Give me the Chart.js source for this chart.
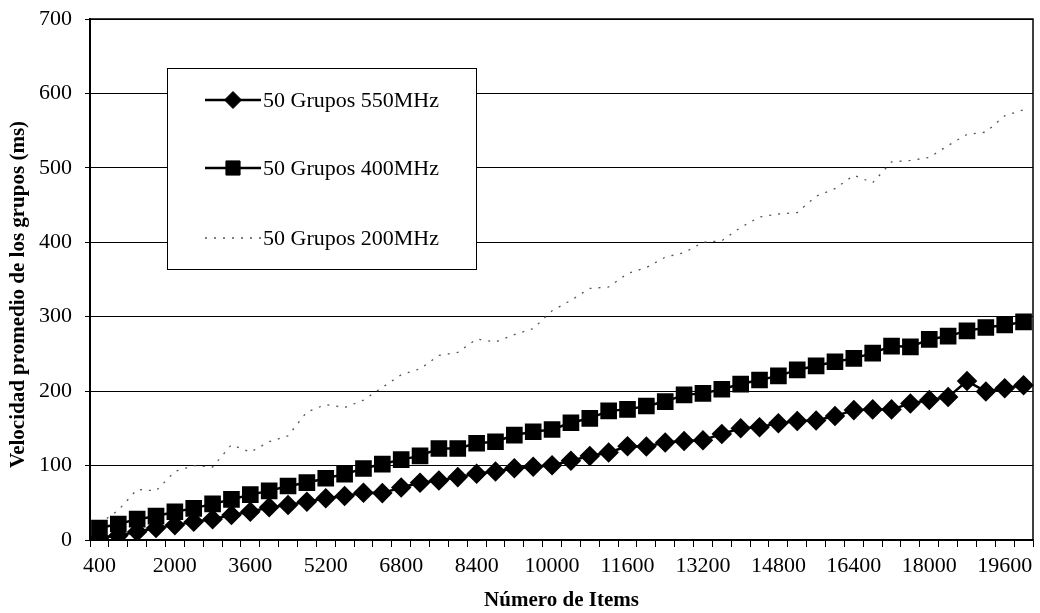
<!DOCTYPE html>
<html>
<head>
<meta charset="utf-8">
<script src="https://cdn.jsdelivr.net/npm/chart.js@4/dist/chart.umd.min.js"></script>
<style>
  html, body { margin: 0; padding: 0; background: #fff; }
  #wrap { width: 1040px; height: 613px; position: relative; }
</style>
</head>
<body>
<div id="wrap"><canvas id="chart" width="1040" height="613"></canvas></div>
<script>
// Número de items por prueba
const categories = [
  400, 800, 1200, 1600, 2000, 2400, 2800, 3200, 3600, 4000,
  4400, 4800, 5200, 5600, 6000, 6400, 6800, 7200, 7600, 8000,
  8400, 8800, 9200, 9600, 10000, 10400, 10800, 11200, 11600, 12000,
  12400, 12800, 13200, 13600, 14000, 14400, 14800, 15200, 15600, 16000,
  16400, 16800, 17200, 17600, 18000, 18400, 18800, 19200, 19600, 20000
];

// Etiquetas visibles del eje X
const xTickLabels = ['400', '2000', '3600', '5200', '6800', '8400', '10000',
  '11600', '13200', '14800', '16400', '18000', '19600'];

// Velocidad promedio (ms) por procesador
const grupos550 = [
  3, 6, 11, 16, 20, 24.5, 28, 33.5, 38, 44,
  47, 51.5, 56, 59, 63.5, 63, 70.5, 77, 80, 84.5,
  89, 92, 96.5, 98.5, 100.5, 106.5, 113, 117.5, 126, 125.5,
  131, 133, 134, 142.5, 150, 151.5, 157, 160, 160.5, 166.5,
  174.5, 175.5, 175.5, 183.5, 188, 192, 213.5, 199.5, 204, 208
];
const grupos400 = [
  16, 21.5, 28, 32, 38, 42.5, 48.5, 54.5, 61, 66,
  72.5, 77, 83, 88.5, 96, 102, 108, 113, 123, 123,
  130, 132, 141, 145.5, 148.5, 157.5, 163.5, 173.5, 175.5, 180,
  186, 195, 197, 202.5, 209.5, 215, 220.5, 228.5, 234, 239.5,
  244, 251, 260.5, 259.5, 269.5, 274, 281, 285.5, 289, 293
];
const grupos200 = [
  22, 40, 68, 66, 92, 100, 98, 128, 118, 132,
  140, 172, 182, 178, 188, 205, 222, 230, 248, 252,
  270, 266, 276, 284, 308, 322, 338, 340, 358, 366,
  380, 386, 400, 402, 420, 434, 438, 440, 462, 472,
  490, 480, 508, 510, 514, 530, 545, 548, 570, 578
];

const seriesLabels = ['50 Grupos 550MHz', '50 Grupos 400MHz', '50 Grupos 200MHz'];
const yTitle = 'Velocidad promedio de los grupos (ms)';
const xTitle = 'Número de Items';

const SERIF = '"Liberation Serif", "Times New Roman", serif';

// Marco del área de trazado (bordes superior y derecho)
const framePlugin = {
  id: 'frame',
  afterDatasetsDraw(chart) {
    const { ctx, chartArea: a } = chart;
    ctx.save();
    ctx.strokeStyle = '#000';
    ctx.lineWidth = 1.5;
    ctx.strokeRect(a.left, a.top, a.right - a.left, a.bottom - a.top);
    ctx.restore();
  }
};

// Título vertical del eje Y, algo desplazado hacia abajo
const yTitlePlugin = {
  id: 'yTitle',
  afterDraw(chart, args, opts) {
    const { ctx, chartArea: a } = chart;
    ctx.save();
    ctx.translate(opts.x, (a.top + a.bottom) / 2 + opts.shift);
    ctx.rotate(-Math.PI / 2);
    ctx.fillStyle = '#000';
    ctx.font = 'bold 21px ' + SERIF;
    ctx.textAlign = 'center';
    ctx.textBaseline = 'middle';
    ctx.fillText(opts.text, 0, 0);
    ctx.restore();
  }
};

// Leyenda en recuadro dentro del área de trazado
const boxLegendPlugin = {
  id: 'boxLegend',
  afterDatasetsDraw(chart, args, opts) {
    const { ctx, chartArea: a } = chart;
    const x0 = a.left + opts.offsetX, y0 = a.top + opts.offsetY;
    ctx.save();
    ctx.fillStyle = '#fff';
    ctx.fillRect(x0, y0, opts.width, opts.height);
    ctx.strokeStyle = '#000';
    ctx.lineWidth = 1;
    ctx.strokeRect(x0 + 0.5, y0 + 0.5, opts.width, opts.height);
    chart.data.datasets.forEach((ds, i) => {
      const y = y0 + opts.rowY[i];
      const lx0 = x0 + opts.lineStart, lx1 = x0 + opts.lineEnd;
      ctx.save();
      ctx.strokeStyle = ds.borderColor;
      ctx.lineWidth = ds.borderWidth;
      ctx.setLineDash(ds.borderDash || []);
      ctx.beginPath();
      ctx.moveTo(lx0, y);
      ctx.lineTo(lx1, y);
      ctx.stroke();
      ctx.restore();
      if (ds.pointRadius > 0) {
        ctx.save();
        ctx.fillStyle = ds.pointBackgroundColor;
        ctx.strokeStyle = ds.pointBorderColor;
        Chart.helpers.drawPoint(ctx, {
          pointStyle: ds.pointStyle, rotation: 0,
          radius: ds.pointRadius, borderWidth: 1
        }, (lx0 + lx1) / 2, y);
        ctx.restore();
      }
      ctx.fillStyle = '#000';
      ctx.font = '22px ' + SERIF;
      ctx.textBaseline = 'middle';
      ctx.textAlign = 'left';
      ctx.fillText(ds.label, x0 + opts.textX, y + 1);
    });
    ctx.restore();
  }
};

new Chart(document.getElementById('chart'), {
  type: 'line',
  data: {
    labels: categories.map(String),
    datasets: [
      {
        label: seriesLabels[0],
        data: grupos550,
        borderColor: '#000',
        borderWidth: 2.5,
        pointStyle: 'rectRot',
        pointRadius: 8.5,
        pointBackgroundColor: '#000',
        pointBorderColor: '#000',
        tension: 0
      },
      {
        label: seriesLabels[1],
        data: grupos400,
        borderColor: '#000',
        borderWidth: 2.5,
        pointStyle: 'rect',
        pointRadius: 10,
        pointBackgroundColor: '#000',
        pointBorderColor: '#000',
        tension: 0
      },
      {
        label: seriesLabels[2],
        data: grupos200,
        borderColor: '#555',
        borderWidth: 1.3,
        borderDash: [2, 7],
        pointRadius: 0,
        pointBackgroundColor: '#555',
        pointBorderColor: '#555',
        tension: 0
      }
    ]
  },
  options: {
    responsive: false,
    animation: false,
    events: [],
    layout: { autoPadding: false, padding: { top: 19, right: 7, left: 0, bottom: 0 } },
    plugins: {
      legend: { display: false },
      tooltip: { enabled: false },
      yTitle: { text: yTitle, x: 19, shift: 15 },
      boxLegend: {
        offsetX: 77, offsetY: 49, width: 309, height: 201,
        rowY: [32, 100, 170],
        lineStart: 38, lineEnd: 94, textX: 96
      }
    },
    scales: {
      x: {
        offset: true,
        afterFit(scale) {
          scale.height = 73;
          scale.paddingLeft = 0;
          scale.paddingRight = 0;
        },
        grid: {
          offset: true,
          drawOnChartArea: false,
          drawTicks: true,
          tickLength: 7,
          color: '#000',
          lineWidth: 1
        },
        border: { display: true, color: '#000', width: 1.5 },
        ticks: {
          autoSkip: false,
          maxRotation: 0,
          padding: 6,
          color: '#000',
          font: { family: SERIF, size: 22 },
          callback(value, index) {
            const lab = String(categories[index]);
            return xTickLabels.includes(lab) ? lab : '';
          }
        },
        title: {
          display: true,
          text: xTitle,
          color: '#000',
          font: { family: SERIF, size: 21, weight: 'bold' },
          padding: { top: 0, bottom: 0 }
        }
      },
      y: {
        min: 0,
        max: 700,
        afterFit(scale) {
          scale.width = 90;
          scale.paddingTop = 0;
          scale.paddingBottom = 0;
        },
        grid: {
          color: '#000',
          lineWidth: 1,
          drawTicks: true,
          tickLength: 5
        },
        border: { display: true, color: '#000', width: 2 },
        ticks: {
          stepSize: 100,
          padding: 13,
          color: '#000',
          font: { family: SERIF, size: 22 }
        },
        title: { display: false }
      }
    }
  },
  plugins: [framePlugin, boxLegendPlugin, yTitlePlugin]
});
</script>
</body>
</html>
